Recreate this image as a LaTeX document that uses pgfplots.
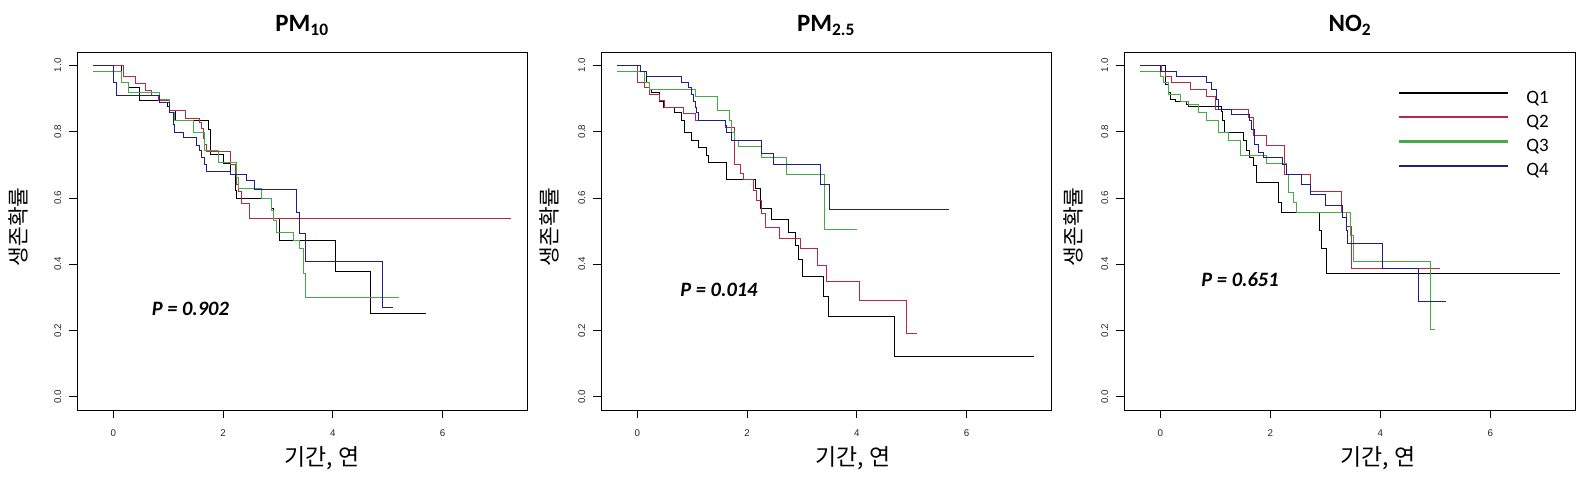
\documentclass[border=0pt]{standalone}
\usepackage{pgfplots}
\pgfplotsset{compat=1.18}
\usepackage{fontspec}
\setmainfont{Liberation Sans}
\newfontfamily\carl{Carlito}
\newfontfamily\kr{Noto Sans CJK KR}
\definecolor{cQ1}{RGB}{0,0,0}
\definecolor{cQ2}{RGB}{185,40,70}
\definecolor{cQ3}{RGB}{70,170,70}
\definecolor{cQ4}{RGB}{30,30,140}
\pgfplotsset{
  km/.style={
    scale only axis, height=358bp, clip=false,
    xmin=-0.66, xmax=7.54, ymin=-0.04, ymax=1.04,
    xtick={0,2,4,6}, xticklabels={,,,},
    ytick={0,0.2,0.4,0.6,0.8,1.0},
    yticklabels={0.0,0.2,0.4,0.6,0.8,1.0},
    /pgf/number format/assume math mode=true,
    tick align=outside, tick pos=left,
    major tick length=8bp,
    tick style={black, line width=0.6bp},
    axis line style={black, line width=0.8bp},
    ticklabel style={font=\fontsize{9.8}{11}\selectfont, text=black!85},
    yticklabel style={rotate=90, anchor=south, inner sep=0pt},
    yticklabel shift=7.5bp,
    every axis plot/.append style={const plot, no markers, line width=0.9bp},
    anchor=south west,
  },
  xlabs/.code={%
    \pgfplotsinvokeforeach{0,2,4,6}{%
      \node[font=\fontsize{9.8}{11}\selectfont, text=black!85, inner sep=0pt, yshift=-22.7bp] at (axis cs:##1,-0.04) {##1};}%
  },
}
\begin{document}
\begin{tikzpicture}
\useasboundingbox (0,0) rectangle (1584bp,479bp);
% ---------------- Panel 1: PM10
\begin{axis}[km, width=450bp, at={(77bp,69bp)}]
\addplot[cQ1] coordinates {(-0.365,1.0) (0.152,0.947) (0.274,0.932) (0.486,0.894) (0.851,0.887) (0.997,0.877) (1.03,0.864) (1.125,0.832) (1.735,0.807) (1.763,0.732) (2.006,0.705) (2.14,0.672) (2.22,0.622) (2.25,0.597) (2.89,0.567) (2.92,0.537) (3.03,0.47) (4.05,0.379) (4.69,0.25) (5.70,0.25)};
\addplot[cQ2] coordinates {(-0.365,1.0) (0.18,0.965) (0.40,0.945) (0.58,0.924) (0.70,0.91) (0.82,0.894) (1.03,0.864) (1.31,0.84) (1.58,0.827) (1.61,0.81) (1.64,0.78) (1.67,0.76) (1.70,0.74) (2.14,0.70) (2.22,0.672) (2.25,0.64) (2.28,0.62) (2.34,0.582) (2.48,0.539) (7.25,0.539)};
\addplot[cQ3] coordinates {(-0.365,0.982) (0.15,0.947) (0.27,0.917) (0.85,0.897) (1.03,0.857) (1.12,0.832) (1.46,0.797) (1.67,0.742) (1.91,0.707) (2.25,0.662) (2.28,0.627) (2.71,0.597) (2.89,0.562) (2.92,0.532) (2.98,0.497) (3.28,0.472) (3.39,0.447) (3.46,0.372) (3.51,0.30) (5.20,0.30)};
\addplot[cQ4] coordinates {(-0.365,1.0) (0.0,0.947) (0.06,0.91) (0.85,0.887) (1.03,0.857) (1.09,0.822) (1.12,0.797) (1.28,0.782) (1.52,0.757) (1.58,0.742) (1.61,0.722) (1.67,0.702) (1.70,0.68) (2.14,0.672) (2.43,0.652) (2.58,0.625) (3.34,0.557) (3.39,0.492) (3.50,0.409) (4.91,0.27) (5.09,0.27)};
\node[font=\fontsize{20.5}{24}\carl\bfseries\itshape] at (axis cs:1.406,0.265) {P = 0.902};
\pgfplotsset{xlabs}
\end{axis}
% ---------------- Panel 2: PM2.5
\begin{axis}[km, width=450bp, at={(601bp,69bp)}]
\addplot[cQ1] coordinates {(-0.365,1.0) (0.061,0.982) (0.17,0.947) (0.231,0.927) (0.261,0.917) (0.413,0.892) (0.474,0.874) (0.687,0.857) (0.809,0.832) (0.869,0.797) (0.991,0.774) (1.112,0.752) (1.264,0.727) (1.295,0.707) (1.617,0.657) (2.146,0.627) (2.237,0.567) (2.45,0.535) (2.754,0.497) (2.875,0.457) (2.936,0.415) (3.015,0.362) (3.392,0.302) (3.483,0.242) (4.687,0.121) (7.234,0.121)};
\addplot[cQ2] coordinates {(-0.365,1.0) (0.0,0.947) (0.14,0.932) (0.231,0.912) (0.413,0.894) (0.505,0.874) (0.839,0.854) (1.052,0.832) (1.599,0.812) (1.763,0.702) (1.872,0.674) (1.933,0.657) (2.116,0.622) (2.176,0.592) (2.267,0.552) (2.328,0.512) (2.584,0.479) (2.967,0.447) (3.283,0.397) (3.453,0.347) (4.049,0.289) (4.9,0.192) (5.094,0.192)};
\addplot[cQ3] coordinates {(-0.365,0.982) (0.14,0.947) (0.231,0.927) (1.052,0.907) (1.459,0.865) (1.678,0.832) (1.72,0.797) (1.763,0.772) (1.842,0.754) (2.267,0.722) (2.711,0.672) (3.41,0.504) (4.0,0.504)};
\addplot[cQ4] coordinates {(-0.365,1.0) (0.061,0.982) (0.17,0.967) (0.809,0.947) (0.93,0.932) (0.991,0.912) (1.021,0.892) (1.052,0.872) (1.082,0.857) (1.112,0.832) (1.599,0.817) (1.629,0.797) (1.72,0.772) (2.267,0.735) (2.48,0.70) (3.331,0.639) (3.502,0.565) (5.69,0.565)};
\node[font=\fontsize{20.5}{24}\carl\bfseries\itshape] at (axis cs:1.49,0.322) {P = 0.014};
\pgfplotsset{xlabs}
\end{axis}
% ---------------- Panel 3: NO2
\begin{axis}[km, width=451bp, at={(1124bp,69bp)},
  legend style={at={(rel axis cs:0.6075,0.894)}, anchor=north west, draw=none, fill=none,
    inner sep=0pt, row sep=7.2bp, column sep=17bp, font=\fontsize{19}{22}\carl,
    nodes={inner sep=0pt, text height=13bp, text depth=4bp}},
  legend cell align=left,
  legend image code/.code={\draw[line width=2.2bp] (0bp,5.5bp) -- (109bp,5.5bp);},
]
\addplot[cQ1] coordinates {(-0.364,1.0) (0.085,0.942) (0.146,0.917) (0.176,0.897) (0.267,0.892) (0.467,0.882) (0.51,0.877) (1.117,0.862) (1.135,0.832) (1.159,0.797) (1.511,0.772) (1.572,0.742) (1.62,0.722) (1.693,0.697) (1.742,0.647) (2.148,0.587) (2.209,0.557) (2.894,0.502) (2.937,0.447) (3.028,0.372) (7.263,0.372)};
\addplot[cQ2] coordinates {(-0.364,1.0) (0.024,0.982) (0.085,0.965) (0.206,0.947) (0.54,0.927) (0.843,0.907) (0.995,0.867) (1.602,0.842) (1.693,0.787) (1.936,0.757) (2.251,0.672) (2.725,0.62) (3.301,0.557) (3.392,0.514) (3.483,0.387) (5.091,0.387)};
\addplot[cQ3] coordinates {(-0.364,0.982) (0.0,0.967) (0.055,0.947) (0.146,0.912) (0.358,0.892) (0.51,0.882) (0.692,0.857) (0.843,0.832) (1.056,0.797) (1.238,0.772) (1.45,0.727) (1.936,0.704) (2.288,0.672) (2.33,0.617) (2.421,0.587) (2.482,0.557) (3.465,0.487) (3.513,0.407) (4.909,0.204) (5.0,0.204)};
\addplot[cQ4] coordinates {(-0.364,1.0) (0.0,0.982) (0.291,0.967) (0.831,0.947) (0.934,0.927) (1.025,0.897) (1.056,0.867) (1.299,0.852) (1.62,0.832) (1.663,0.807) (1.705,0.762) (1.784,0.737) (1.875,0.722) (2.227,0.70) (2.288,0.672) (2.573,0.64) (2.737,0.61) (2.998,0.577) (3.319,0.542) (3.38,0.502) (3.404,0.462) (4.047,0.387) (4.697,0.287) (5.2,0.287)};
\legend{Q1,Q2,Q3,Q4}
\node[font=\fontsize{20.5}{24}\carl\bfseries\itshape] at (axis cs:1.45,0.352) {P = 0.651};
\pgfplotsset{xlabs}
\end{axis}
% ---------------- titles and axis labels
\foreach \cx/\t in {302/{PM\textsubscript{10}}, 826/{PM\textsubscript{2.5}}, 1350/{NO\textsubscript{2}}}{
  \node[anchor=base, font=\fontsize{25}{30}\carl\bfseries, inner sep=0pt] at (\cx bp,447.3bp) {\t};
}
\foreach \cx in {322,853,1378}{
  \node[font=\fontsize{23}{27}\kr, inner sep=0pt] at (\cx bp,21bp) {기간, 연};
}
\foreach \cx in {18,549,1073}{
  \node[rotate=90, font=\fontsize{21.5}{25}\kr, inner sep=0pt] at (\cx bp,252bp) {생존확률};
}
\end{tikzpicture}
\end{document}
